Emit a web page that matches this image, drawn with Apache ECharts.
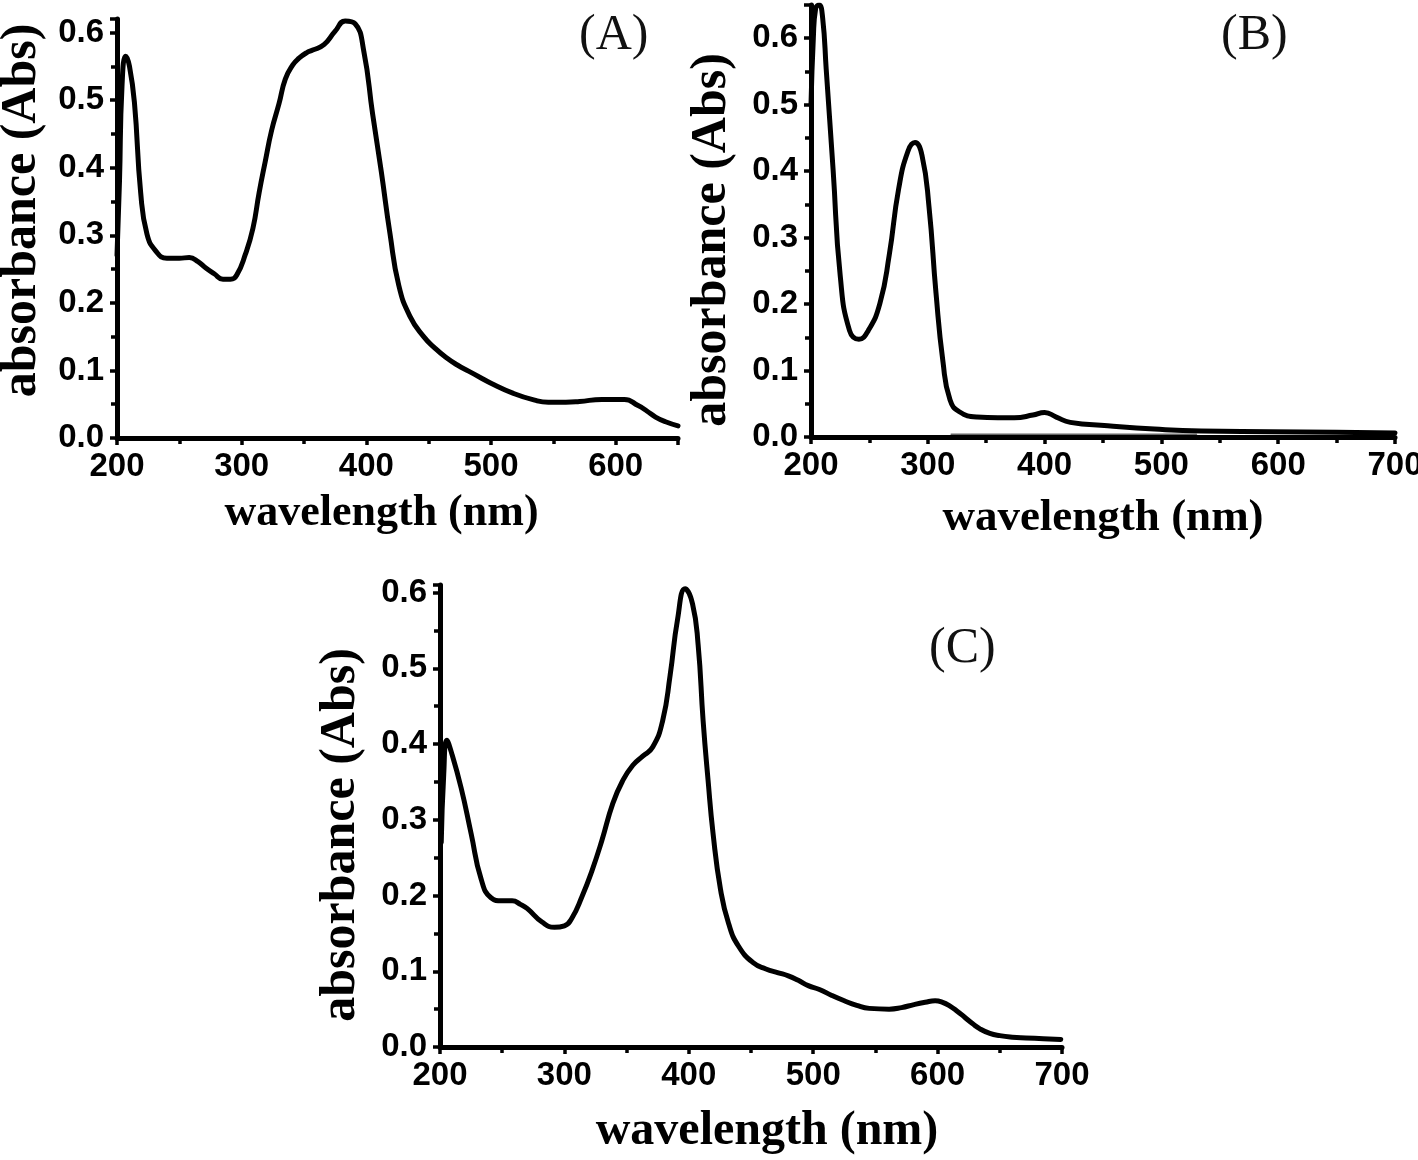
<!DOCTYPE html>
<html>
<head>
<meta charset="utf-8">
<script src="https://cdn.jsdelivr.net/npm/echarts@6/dist/echarts.min.js"></script>
<style>
html,body{margin:0;padding:0;background:#fff;}
#chart{width:1418px;height:1160px;}
</style>
</head>
<body>
<div id="chart"></div>
<script>
// ---- Panel A ----
const wavelengthA = [200, 202, 204, 207, 210, 214, 219, 224, 231, 240,
  250, 258, 265, 271, 278, 285, 291, 296, 303, 309,
  314, 319, 324, 330, 335, 341, 346, 352, 357, 366,
  375, 383, 391, 398, 405, 412, 419, 426, 435, 446,
  455, 464, 473, 482, 491, 500, 518, 535, 546, 560,
  571, 589, 607, 618, 625, 632, 640, 650];
const absorbanceA = [0.27, 0.38, 0.52, 0.565, 0.55, 0.496, 0.363, 0.302, 0.277, 0.266,
  0.266, 0.267, 0.261, 0.252, 0.243, 0.235, 0.235, 0.241, 0.272, 0.31,
  0.363, 0.41, 0.455, 0.495, 0.531, 0.552, 0.562, 0.57, 0.574, 0.582,
  0.602, 0.617, 0.613, 0.572, 0.48, 0.394, 0.302, 0.226, 0.18, 0.15,
  0.133, 0.119, 0.108, 0.099, 0.09, 0.081, 0.066, 0.056, 0.053, 0.053,
  0.054, 0.057, 0.057, 0.048, 0.04, 0.031, 0.024, 0.018];

// ---- Panel B ----
const wavelengthB = [200, 202, 204, 207, 210, 213, 219, 225, 233, 241,
  249, 259, 267, 275, 283, 289, 295, 301, 307, 313,
  319, 327, 342, 360, 374, 390, 400, 410, 422, 454,
  494, 534, 593, 650, 700];
const absorbanceB = [0.5, 0.6, 0.645, 0.65, 0.63, 0.554, 0.40, 0.243, 0.16, 0.147,
  0.16, 0.201, 0.274, 0.373, 0.43, 0.443, 0.424, 0.347, 0.217, 0.113,
  0.056, 0.038, 0.03, 0.029, 0.029, 0.033, 0.037, 0.03, 0.022, 0.017,
  0.012, 0.009, 0.008, 0.007, 0.006];
const baselineWavelengthB = [320, 530];
const baselineAbsorbanceB = [0.004, 0.004];

// ---- Panel C ----
const wavelengthC = [201, 203, 205.5, 209, 217, 225, 233, 241, 250, 258,
  265, 270, 282, 292, 300, 306, 314, 322, 330, 339,
  347, 355, 363, 371, 379, 385, 391, 397, 403, 407.5,
  411.5, 415.5, 419.5, 425.5, 432, 440, 452, 462, 472, 480,
  488, 496, 505, 515, 525, 535, 545, 561, 571, 581,
  590, 598, 604, 610, 616, 622, 628, 634, 642, 650,
  660, 671, 685, 699];
const absorbanceC = [0.27, 0.36, 0.405, 0.39, 0.342, 0.282, 0.222, 0.197, 0.193, 0.193,
  0.188, 0.183, 0.165, 0.158, 0.16, 0.17, 0.198, 0.232, 0.272, 0.322,
  0.352, 0.372, 0.384, 0.396, 0.431, 0.491, 0.565, 0.605, 0.585, 0.531,
  0.431, 0.352, 0.282, 0.208, 0.163, 0.133, 0.111, 0.103, 0.098, 0.094,
  0.088, 0.081, 0.076, 0.068, 0.061, 0.055, 0.051, 0.05, 0.052, 0.056,
  0.059, 0.061, 0.059, 0.054, 0.047, 0.039, 0.031, 0.024, 0.018, 0.015,
  0.013, 0.012, 0.011, 0.01];

const xTitle = 'wavelength (nm)';
const yTitle = 'absorbance (Abs)';
const panelLabels = ['(A)', '(B)', '(C)'];

function pairs(xs, ys) { return xs.map((x, i) => [x, ys[i]]); }

const tickFont = { fontFamily: 'Liberation Sans, Arial, sans-serif', fontWeight: 'bold', fontSize: 33, color: '#000' };
const titleFont = { fontFamily: 'Liberation Serif, Times New Roman, serif', fontWeight: 'bold', color: '#000' };

function xAxisDef(idx, max, showMax, gap, pad, size) {
  return {
    type: 'value', gridIndex: idx, min: 200, max: max, interval: 100,
    name: xTitle, nameLocation: 'middle', nameGap: gap,
    nameTextStyle: Object.assign({ fontSize: size, padding: pad }, titleFont),
    axisLine: { show: true, onZero: false, lineStyle: { color: '#000', width: 5 } },
    axisTick: { show: true, inside: false, length: 7, lineStyle: { color: '#000', width: 3.5 } },
    minorTick: { show: true, splitNumber: 2, length: 6, lineStyle: { color: '#000', width: 3.5 } },
    splitLine: { show: false }, minorSplitLine: { show: false },
    axisLabel: Object.assign({ margin: 12, showMaxLabel: showMax, showMinLabel: true,
      formatter: v => String(Math.round(v)) }, tickFont)
  };
}
function yAxisDef(idx, max, gap, pad) {
  return {
    type: 'value', gridIndex: idx, min: 0, max: max, interval: 0.1,
    name: yTitle, nameLocation: 'middle', nameGap: gap, nameRotate: 90,
    nameTextStyle: Object.assign({ fontSize: 50, padding: pad }, titleFont),
    axisLine: { show: true, onZero: false, lineStyle: { color: '#000', width: 5 } },
    axisTick: { show: true, inside: false, length: 7, lineStyle: { color: '#000', width: 3.5 } },
    minorTick: { show: true, splitNumber: 2, length: 6, lineStyle: { color: '#000', width: 3.5 } },
    splitLine: { show: false }, minorSplitLine: { show: false },
    axisLabel: Object.assign({ margin: 13, showMaxLabel: false,
      formatter: v => v.toFixed(1) }, tickFont)
  };
}
function lineSeries(idx, data, width, color) {
  return {
    type: 'line', xAxisIndex: idx, yAxisIndex: idx, data: data,
    showSymbol: false, smooth: 0.5, clip: true,
    lineStyle: { color: color || '#000', width: width || 5, join: 'round', cap: 'round' },
    itemStyle: { color: color || '#000' }, animation: false
  };
}

const chart = echarts.init(document.getElementById('chart'), null, { renderer: 'canvas' });
chart.setOption({
  backgroundColor: '#fff',
  animation: false,
  title: [
    { text: panelLabels[0], left: 574, top: 6, textStyle: { fontFamily: 'Liberation Serif, serif', fontWeight: 'normal', fontSize: 50, color: '#111' } },
    { text: panelLabels[1], left: 1216, top: 6, textStyle: { fontFamily: 'Liberation Serif, serif', fontWeight: 'normal', fontSize: 50, color: '#111' } },
    { text: panelLabels[2], left: 924, top: 619, textStyle: { fontFamily: 'Liberation Serif, serif', fontWeight: 'normal', fontSize: 50, color: '#111' } }
  ],
  grid: [
    { left: 117, top: 19, width: 561, height: 419, containLabel: false, outerBoundsMode: 'none' },
    { left: 811, top: 5, width: 584, height: 432, containLabel: false, outerBoundsMode: 'none' },
    { left: 440, top: 585, width: 622, height: 462, containLabel: false, outerBoundsMode: 'none' }
  ],
  xAxis: [
    xAxisDef(0, 650, false, 54, [0, 32, 0, 0], 44),
    xAxisDef(1, 700, true, 59, 0, 45),
    xAxisDef(2, 700, true, 61, [0, 0, 0, 32], 48)
  ],
  yAxis: [
    yAxisDef(0, 0.62, 70, [0, 0, 0, 36]),
    yAxisDef(1, 0.65, 74, [0, 38, 0, 0]),
    yAxisDef(2, 0.61, 74, [0, 38, 0, 0])
  ],
  series: [
    lineSeries(0, pairs(wavelengthA, absorbanceA)),
    lineSeries(1, pairs(baselineWavelengthB, baselineAbsorbanceB), 1.5, '#666'),
    lineSeries(1, pairs(wavelengthB, absorbanceB)),
    lineSeries(2, pairs(wavelengthC, absorbanceC))
  ]
});
</script>
</body>
</html>
